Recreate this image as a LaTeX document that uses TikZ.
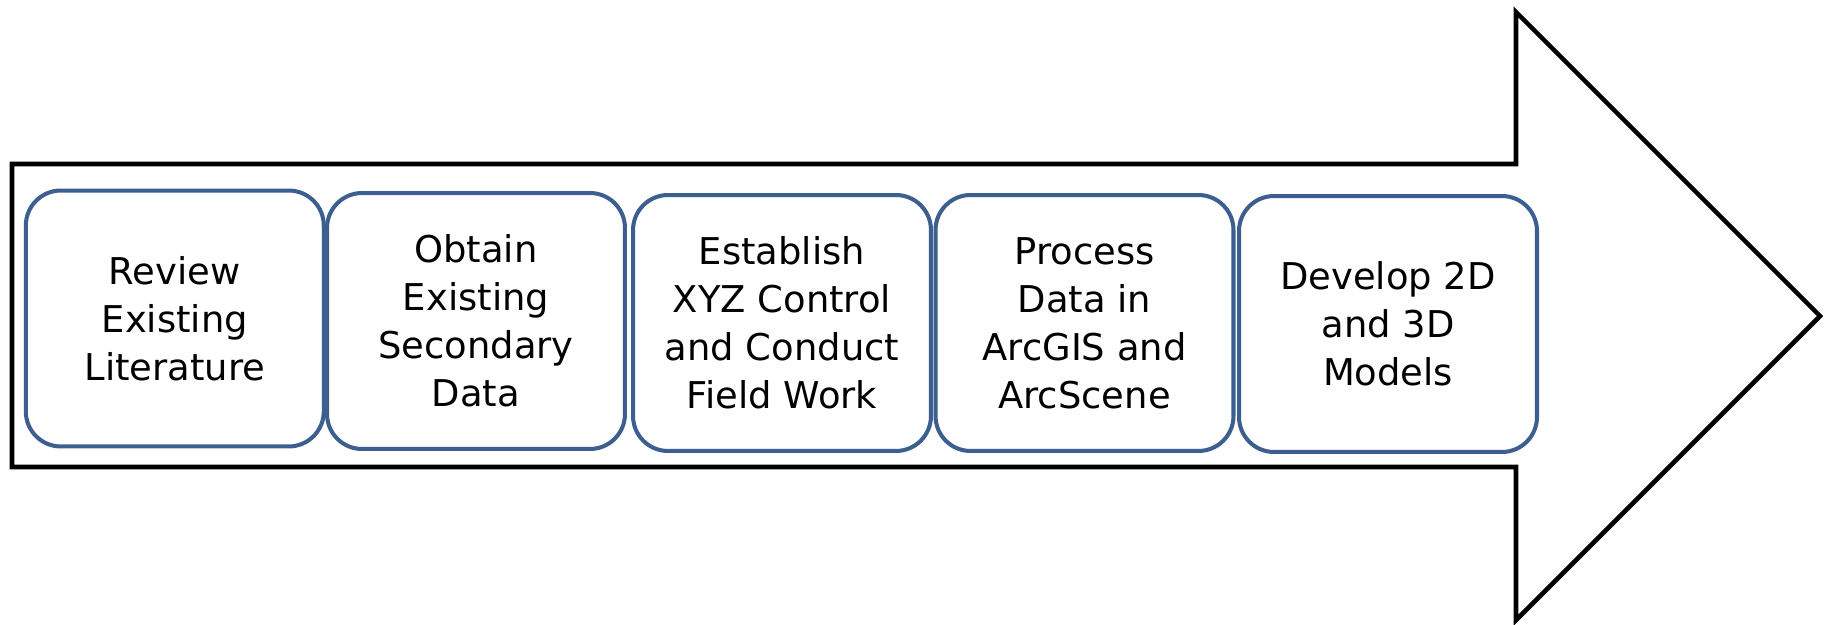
\documentclass[tikz,border=0pt]{standalone}
\usepackage{fontspec}
\setmainfont{DejaVu Sans}
\definecolor{boxblue}{HTML}{3C5F8F}
\begin{document}
\begin{tikzpicture}[x=0.02cm,y=-0.02cm,
  stepbox/.style={draw=boxblue,line width=2.3pt,rounded corners=0.7cm,fill=white,
    minimum width=5.96cm,minimum height=5.12cm,align=center,
    font=\fontsize{21}{27.3}\selectfont}]
  \useasboundingbox (0,0) rectangle (1833,625);
  % big arrow
  \draw[line width=2.6pt] (12,164) -- (1516,164) -- (1516,12) -- (1820,316)
    -- (1516,620) -- (1516,467) -- (12,467) -- cycle;
  % steps
  \foreach \x/\y/\n/\t in {174.8/318.5/review/{Review\\Existing\\Literature},
      476/321/obtain/{Obtain\\Existing\\Secondary\\Data},
      782/323/establish/{Establish\\XYZ Control\\and Conduct\\Field Work},
      1084.5/323/process/{Process\\Data in\\ArcGIS and\\ArcScene},
      1388/324/develop/{Develop 2D\\and 3D\\Models}}{
    \node[stepbox] (\n) at (\x,\y) {\t};}
\end{tikzpicture}
\end{document}
